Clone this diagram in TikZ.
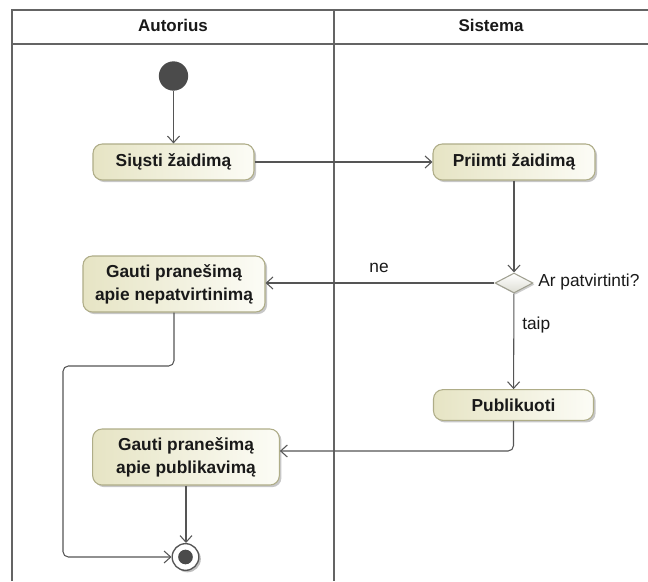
\documentclass[tikz,border=0pt]{standalone}
\usepackage{fontspec}
\setmainfont{Liberation Sans}
\usetikzlibrary{arrows.meta,shapes.geometric,shadows}

\definecolor{laneC}{RGB}{100,100,100}
\definecolor{lineC}{RGB}{85,85,85}
\definecolor{boxB}{RGB}{175,173,136}
\definecolor{boxA}{RGB}{230,228,196}
\definecolor{boxW}{RGB}{252,252,246}
\definecolor{txt}{RGB}{25,25,25}
\definecolor{initC}{RGB}{75,75,75}
\definecolor{dmA}{RGB}{222,222,212}
\definecolor{dmB}{RGB}{160,160,145}

\begin{document}
\begin{tikzpicture}[x=0.75pt,y=-0.75pt,
  lane/.style={draw=laneC,line width=2.2pt},
  act/.style={rectangle,rounded corners=7pt,draw=boxB,line width=0.8pt,
    left color=boxA,right color=boxW,text=txt,align=center,
    font=\bfseries\fontsize{13}{17}\selectfont,
    drop shadow={shadow xshift=1.6pt,shadow yshift=-1.6pt,opacity=0.22,fill=black}},
  hdr/.style={font=\bfseries\fontsize{12.7}{15}\selectfont,text=txt},
  flow/.style={draw=lineC,line width=0.8pt,-{Straight Barb[length=5pt,width=9pt]}},
  lbl/.style={font=\fontsize{13}{15}\selectfont,text=txt,inner sep=0pt}
]
\useasboundingbox (0,0) rectangle (648,581);
\fill[white] (0,0) rectangle (648,581);

% swimlane frame
\draw[lane] (12,581) -- (12,10) -- (648,10);
\draw[lane] (12,44) -- (648,44);
\draw[lane] (334,10) -- (334,581);
\node[hdr] (laneA) at (173,25) {Autorius};
\node[hdr] (laneS) at (491,25) {Sistema};

% start and end
\node[circle,fill=initC,minimum size=22pt,inner sep=0pt] (start) at (173.5,76) {};
\node[circle,draw=lineC,line width=1pt,fill=white,minimum size=20pt,inner sep=0pt,
  drop shadow={shadow xshift=1.5pt,shadow yshift=-1.5pt,opacity=0.25,fill=black}] (end) at (185.5,557) {};
\fill[initC] (end.center) circle (5.5pt);

% actions
\node[act,minimum width=120.75pt,minimum height=27pt] (send) at (173.5,162) {Siųsti žaidimą};
\node[act,minimum width=121.5pt,minimum height=27pt] (recv) at (514,162) {Priimti žaidimą};
\node[act,minimum width=136.5pt,minimum height=42pt] (rej) at (174,284) {Gauti pranešimą\\apie nepatvirtinimą};
\node[act,minimum width=120pt,minimum height=23pt] (pub) at (513.5,405) {Publikuoti};
\node[act,minimum width=140pt,minimum height=42pt] (ok) at (186,457) {Gauti pranešimą\\apie publikavimą};

% decision
\node[diamond,draw=dmB,line width=0.8pt,top color=white,bottom color=dmA,
  minimum width=28.5pt,minimum height=15pt,inner sep=0pt,
  drop shadow={shadow xshift=1.2pt,shadow yshift=-1.2pt,opacity=0.2,fill=black}] (dec) at (514,283) {};
\node[lbl,anchor=west] (q) at (538,282) {Ar patvirtinti?};
\node[lbl] (no) at (379,268) {ne};
\node[lbl,anchor=west] (yes) at (522,325) {taip};

% flows
\coordinate (loop) at (63,366);
\coordinate (okin) at ([yshift=4.5pt]ok.east);
\draw[flow] (start) -- (send);
\draw[flow] (send) -- (recv);
\draw[flow] (recv) -- (dec);
\draw[flow] (dec.west) -- (dec.west -| rej.east);
\draw[flow] (dec) -- (pub);
\draw[flow,rounded corners=4pt] (pub.south) |- (okin);
\draw[flow] (ok.south) -- (ok.south |- end.north);
\draw[flow,rounded corners=4pt] (rej.south) |- (loop) |- (end.west);
\end{tikzpicture}
\end{document}
